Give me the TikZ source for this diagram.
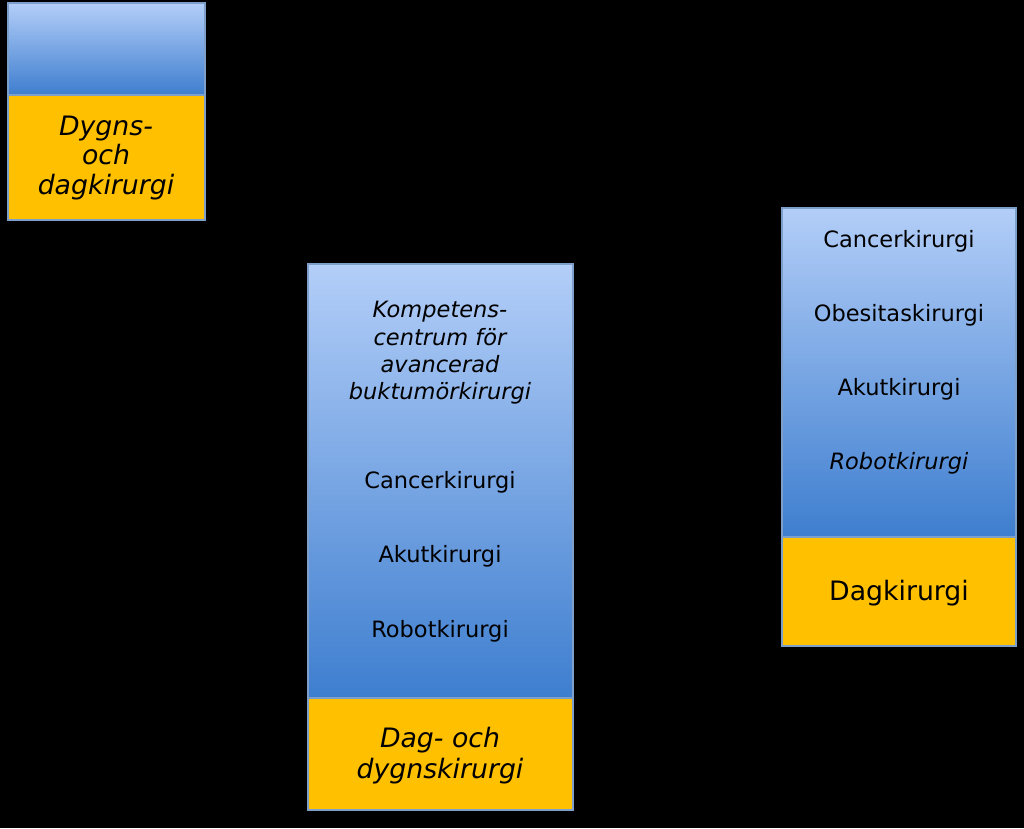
\documentclass[tikz,border=0pt]{standalone}
\usepackage{fontspec}
\setmainfont{DejaVu Sans}
\usetikzlibrary{positioning}
\definecolor{boxtop}{HTML}{B3CEF8}
\definecolor{boxbot}{HTML}{3E7ECF}
\definecolor{boxedge}{HTML}{7F9FCB}
\definecolor{daygold}{HTML}{FFC000}
\tikzset{
  bluepart/.style={top color=boxtop, bottom color=boxbot, draw=boxedge, line width=1pt},
  goldpart/.style={fill=daygold, draw=boxedge, line width=1pt},
  item/.style={font=\fontsize{16}{19}\selectfont, align=center},
  bigitem/.style={font=\fontsize{19}{22}\selectfont, align=center}
}
\begin{document}
\begin{tikzpicture}[x=0.025cm, y=-0.025cm]
  \fill[black] (0,0) rectangle (1024,828);
  % vänster
  \path[bluepart] (8,3) rectangle (205,95);
  \path[goldpart] (8,95) rectangle (205,220);
  \node[bigitem, font=\fontsize{19}{21}\selectfont\itshape] (dygn) at (106,158) {Dygns-\\och\\dagkirurgi};
  % mitten
  \path[bluepart] (308,264) rectangle (573,698);
  \path[goldpart] (308,698) rectangle (573,810);
  \node[item, font=\fontsize{16}{19.5}\selectfont\itshape] (komp) at (440,353) {Kompetens-\\centrum för\\avancerad\\buktumörkirurgi};
  \node[item] (cancerA) at (440,482) {Cancerkirurgi};
  \node[item] (akutA) at (440,556) {Akutkirurgi};
  \node[item] (robotA) at (440,631) {Robotkirurgi};
  \node[bigitem, font=\fontsize{19}{22}\selectfont\itshape] (dagA) at (440,756) {Dag- och\\dygnskirurgi};
  % höger
  \path[bluepart] (782,208) rectangle (1016,537);
  \path[goldpart] (782,537) rectangle (1016,646);
  \node[item] (cancerB) at (899,241) {Cancerkirurgi};
  \node[item] (obesB) at (899,315) {Obesitaskirurgi};
  \node[item] (akutB) at (899,389) {Akutkirurgi};
  \node[item, font=\fontsize{16}{19}\selectfont\itshape] (robotB) at (899,463) {Robotkirurgi};
  \node[bigitem] (dagB) at (899,593) {Dagkirurgi};
\end{tikzpicture}
\end{document}
